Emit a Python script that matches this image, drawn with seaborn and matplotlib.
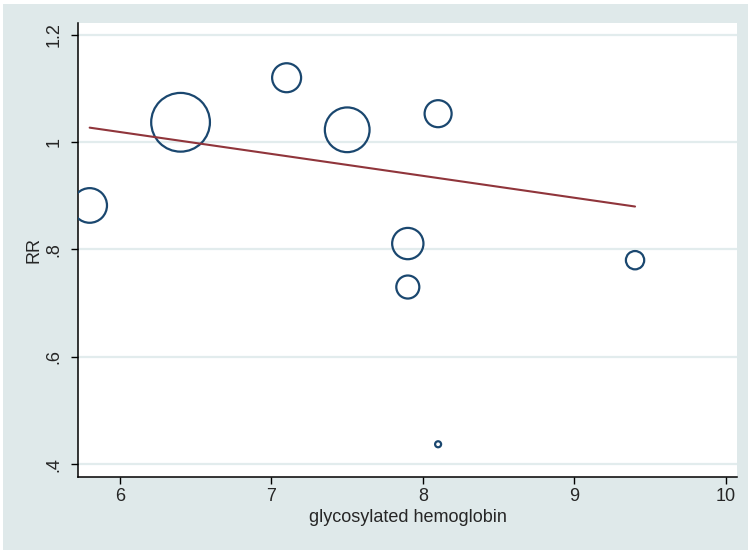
import pandas as pd
import seaborn as sns
import matplotlib.pyplot as plt
from matplotlib.patches import Rectangle

# study-level points
hba1c = [5.8, 6.4, 7.1, 7.5, 8.1, 7.9, 7.9, 9.4, 8.1]
rr = [0.882, 1.037, 1.120, 1.023, 1.053, 0.811, 0.730, 0.780, 0.437]
weight = [12.0, 34.5, 8.4, 20.0, 7.3, 9.8, 5.3, 3.35, 0.36]

# fitted meta-regression line (end points)
fit_x = [5.8, 9.4]
fit_y = [1.027, 0.880]

yticks = [0.4, 0.6, 0.8, 1.0, 1.2]
ytick_labels = [".4", ".6", ".8", "1", "1.2"]
xticks = [6, 7, 8, 9, 10]

df = pd.DataFrame({"x": hba1c, "y": rr, "w": weight})

sns.set_style("white")
plt.rcParams["font.family"] = ["Liberation Sans", "DejaVu Sans"]

bg = "#dfe9ea"
fig = plt.figure(figsize=(7.48, 5.50), dpi=100, facecolor="white")
fig.patches.append(Rectangle((3 / 748, 0), 1, (550 - 4) / 550, transform=fig.transFigure,
                             facecolor=bg, edgecolor="none", zorder=-10))
ax = fig.add_axes([78 / 748, 73 / 550, 659 / 748, 454 / 550])
ax.set_facecolor("white")

# bubble area proportional to weight
k = 51.84
sns.scatterplot(data=df, x="x", y="y", size="w", sizes=(min(weight) * k, max(weight) * k),
                size_norm=(min(weight), max(weight)), facecolor="none", edgecolor="#1a476f",
                linewidth=1.6, legend=False, ax=ax, zorder=3)
sns.lineplot(x=fit_x, y=fit_y, color="#90353b", linewidth=1.5, ax=ax, zorder=4)

ax.set_xlim(5.723, 10.073)
ax.set_ylim(0.376, 1.222)
ax.set_xticks(xticks)
ax.set_xticklabels([str(t) for t in xticks])
ax.set_yticks(yticks)
ax.set_yticklabels(ytick_labels, rotation=90, va="center")

ax.yaxis.grid(True, color="#e2eced", linewidth=1.6)
ax.set_axisbelow(True)

for s in ["top", "right"]:
    ax.spines[s].set_visible(False)
for s in ["left", "bottom"]:
    ax.spines[s].set_color("black")
    ax.spines[s].set_linewidth(1.1)

ax.tick_params(axis="x", direction="out", length=5, width=1, color="black",
               labelsize=13, pad=3, bottom=True)
ax.tick_params(axis="y", direction="out", length=5, width=1, color="black",
               labelsize=13, pad=6, left=True)

ax.set_xlabel("glycosylated hemoglobin", fontsize=13)
ax.set_ylabel("RR", fontsize=13)
ax.xaxis.set_label_coords(0.5, -0.07)
ax.yaxis.set_label_coords(-0.054, 0.5)

fig.savefig("out.png", dpi=100, facecolor=fig.get_facecolor())
